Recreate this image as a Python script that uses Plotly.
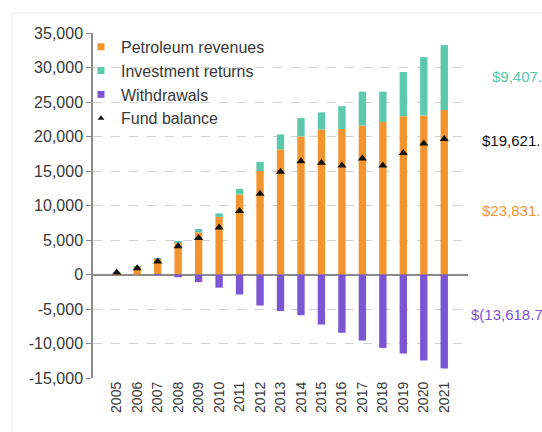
import plotly.graph_objects as go

# Fund flows by year (millions of dollars)
years = [str(y) for y in range(2005, 2022)]
petroleum_revenues = [250, 1100, 2300, 4600, 6100, 8350, 11600, 15000, 18100,
                      20000, 21000, 21100, 21600, 22100, 22950, 23050, 23831]
investment_returns = [10, 30, 50, 200, 500, 500, 800, 1300, 2200,
                      2700, 2500, 3300, 4900, 4400, 6400, 8450, 9407]
withdrawals = [0, 0, -50, -400, -1100, -1900, -2900, -4500, -5300,
               -5900, -7250, -8450, -9570, -10630, -11450, -12460, -13618.7]
fund_balance = [300, 900, 1900, 4100, 5300, 6800, 9200, 11700, 14900,
                16400, 16200, 15800, 16800, 15800, 17600, 19000, 19621]

y_ticks = [35000, 30000, 25000, 20000, 15000, 10000, 5000, 0, -5000, -10000, -15000]
y_tick_text = [f"{v:,}" for v in y_ticks]

ORANGE = "#F3952F"
TEAL = "#5CC9AC"
PURPLE = "#7B55D3"
TEXT = "#383838"
FONT = "Liberation Sans, Arial, sans-serif"

fig = go.Figure()

fig.add_trace(go.Bar(x=years, y=petroleum_revenues, name="Petroleum revenues",
                     marker=dict(color=ORANGE, line=dict(width=0)), showlegend=False))
fig.add_trace(go.Bar(x=years, y=investment_returns, name="Investment returns",
                     marker=dict(color=TEAL, line=dict(width=0)), showlegend=False))
fig.add_trace(go.Bar(x=years, y=withdrawals, name="Withdrawals",
                     marker=dict(color=PURPLE, line=dict(width=0)), showlegend=False))
fig.add_trace(go.Scatter(x=years, y=fund_balance, mode="markers", name="Fund balance",
                         marker=dict(symbol="triangle-up", size=8, color="#111111"),
                         showlegend=False))

# Legend entries with small square swatches
for name, color, symbol, size in [("Petroleum revenues", ORANGE, "square", 7),
                                  ("Investment returns", TEAL, "square", 7),
                                  ("Withdrawals", PURPLE, "square", 7),
                                  ("Fund balance", "#111111", "triangle-up", 6)]:
    fig.add_trace(go.Scatter(x=[None], y=[None], mode="markers", name=name,
                             marker=dict(symbol=symbol, size=size, color=color),
                             showlegend=True))

# Latest-year values at the right edge
right_labels = [
    ("$9,407.", TEAL, 28700, 1.059),
    ("$19,621.", "#111111", 19400, 1.032),
    ("$23,831.", ORANGE, 9300, 1.033),
    ("$(13,618.7", PURPLE, -5800, 1.002),
]
for text, color, yv, xp in right_labels:
    fig.add_annotation(x=xp, xref="paper", y=yv, yref="y", text=text,
                       showarrow=False, xanchor="left", yanchor="middle",
                       font=dict(family=FONT, size=15, color=color))

# faint frame around the chart
fig.add_shape(type="rect", xref="paper", yref="paper",
              x0=-0.216, x1=1.25, y0=-0.2, y1=1.058,
              line=dict(color="#ececec", width=1), fillcolor="rgba(0,0,0,0)", layer="below")

fig.update_layout(
    width=542, height=432,
    margin=dict(l=93, r=74, t=33, b=54),
    paper_bgcolor="white", plot_bgcolor="white",
    barmode="relative", bargap=0.64,
    font=dict(family=FONT, size=16, color=TEXT),
    legend=dict(x=-0.032, y=1.009, xanchor="left", yanchor="top",
                bgcolor="rgba(0,0,0,0)", font=dict(family=FONT, size=16, color=TEXT),
                itemwidth=30, tracegroupgap=0),
    xaxis=dict(type="category", tickangle=-90, showgrid=False, showline=False,
               ticks="", tickfont=dict(family=FONT, size=14, color=TEXT)),
    yaxis=dict(range=[-15000, 35000], tickvals=y_ticks, ticktext=y_tick_text,
               showgrid=True, gridcolor="#d2d2d2", griddash="dash", gridwidth=1,
               showline=True, linecolor="#8a8a8a", linewidth=1.5,
               ticks="outside", ticklen=5, tickcolor="#8a8a8a",
               zeroline=True, zerolinecolor="#8a8a8a", zerolinewidth=1.5,
               tickfont=dict(family=FONT, size=16, color=TEXT)),
)

fig.write_html("out.html")
